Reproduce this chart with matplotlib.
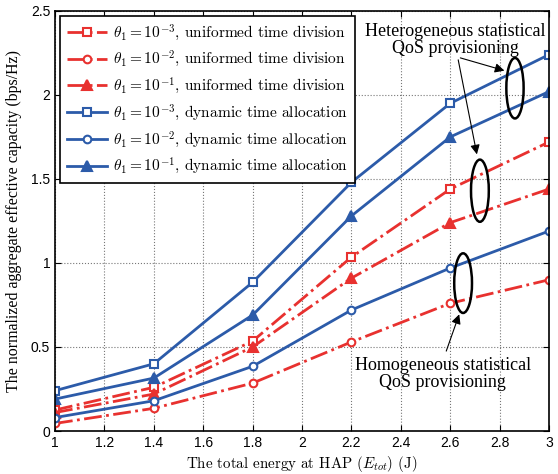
import matplotlib
matplotlib.use("Agg")
import matplotlib.pyplot as plt
from matplotlib.patches import Ellipse
from matplotlib.ticker import FormatStrFormatter

plt.rcParams['mathtext.fontset'] = 'cm'
plt.rcParams['font.family'] = ['Liberation Sans', 'DejaVu Sans']

# energy levels at HAP (J)
energy = [1.0, 1.4, 1.8, 2.2, 2.6, 3.0]

# uniformed time division
uni_1e3 = [0.125, 0.26, 0.535, 1.035, 1.44, 1.72]
uni_1e2 = [0.045, 0.135, 0.285, 0.53, 0.76, 0.90]
uni_1e1 = [0.11, 0.22, 0.50, 0.91, 1.24, 1.44]

# dynamic time allocation
dyn_1e3 = [0.24, 0.40, 0.885, 1.48, 1.95, 2.24]
dyn_1e2 = [0.08, 0.18, 0.385, 0.72, 0.97, 1.19]
dyn_1e1 = [0.19, 0.315, 0.69, 1.28, 1.75, 2.02]

labels = [r'$\theta_1=10^{-3}$, uniformed time division',
          r'$\theta_1=10^{-2}$, uniformed time division',
          r'$\theta_1=10^{-1}$, uniformed time division',
          r'$\theta_1=10^{-3}$, dynamic time allocation',
          r'$\theta_1=10^{-2}$, dynamic time allocation',
          r'$\theta_1=10^{-1}$, dynamic time allocation']

red = '#E8312F'
blue = '#2C5BA9'

fig = plt.figure(figsize=(5.58, 4.74), dpi=100)
ax = fig.add_axes([0.0986, 0.0907, 0.8854, 0.8863])

ax.plot(energy, uni_1e3, '-.', color=red, lw=2, marker='s', ms=5.5, mfc='white', mew=1.5, label=labels[0])
ax.plot(energy, uni_1e2, '-.', color=red, lw=2, marker='o', ms=5.5, mfc='white', mew=1.5, label=labels[1])
ax.plot(energy, uni_1e1, '-.', color=red, lw=2, marker='^', ms=6.5, mfc=red, mew=1.5, label=labels[2])
ax.plot(energy, dyn_1e3, '-', color=blue, lw=2, marker='s', ms=5.5, mfc='white', mew=1.5, label=labels[3])
ax.plot(energy, dyn_1e2, '-', color=blue, lw=2, marker='o', ms=5.5, mfc='white', mew=1.5, label=labels[4])
ax.plot(energy, dyn_1e1, '-', color=blue, lw=2, marker='^', ms=6.5, mfc=blue, mew=1.5, label=labels[5])

ax.set_xlim(1, 3)
ax.set_ylim(0, 2.5)
ax.set_xticks([1, 1.2, 1.4, 1.6, 1.8, 2, 2.2, 2.4, 2.6, 2.8, 3])
ax.set_yticks([0, 0.5, 1, 1.5, 2, 2.5])
ax.xaxis.set_major_formatter(FormatStrFormatter('%g'))
ax.yaxis.set_major_formatter(FormatStrFormatter('%g'))
ax.tick_params(direction='in', top=True, right=True, labelsize=10, length=4)
ax.grid(True, linestyle=':', color='#777777', linewidth=0.8)
for s in ax.spines.values():
    s.set_linewidth(1.2)

ax.set_xlabel(r'The total energy at HAP $(E_{tot})$ (J)', family='cmr10', fontsize=10.8, labelpad=3)
ax.set_ylabel('The normalized aggregate effective capacity (bps/Hz)', family='Liberation Serif',
              fontsize=11.4, labelpad=6)

leg = ax.legend(loc='upper left', prop={'family': 'cmr10', 'size': 11.1}, fancybox=False,
                edgecolor='black', framealpha=1, labelspacing=0.42, handlelength=2.6,
                borderaxespad=0.3, handletextpad=0.4, borderpad=0.45)
leg.get_frame().set_linewidth(1.2)

# ellipses marking groups of curves
for cx, cy, w, h in [(2.862, 2.04, 0.07, 0.36), (2.72, 1.43, 0.072, 0.37), (2.652, 0.88, 0.072, 0.355)]:
    ax.add_patch(Ellipse((cx, cy), w, h, fill=False, edgecolor='black', lw=1.8, zorder=5))

ax.text(2.62, 2.325, 'Heterogeneous statistical\nQoS provisioning', family='Liberation Serif',
        fontsize=13, ha='center', va='center', linespacing=1.0)
ax.annotate('', xy=(2.83, 2.14), xytext=(2.63, 2.225),
            arrowprops=dict(arrowstyle='-|>', color='black', lw=0.8, mutation_scale=14))
ax.annotate('', xy=(2.71, 1.63), xytext=(2.63, 2.225),
            arrowprops=dict(arrowstyle='-|>', color='black', lw=0.8, mutation_scale=14))

ax.text(2.57, 0.34, 'Homogeneous statistical\nQoS provisioning', family='Liberation Serif',
        fontsize=13, ha='center', va='center', linespacing=1.0)
ax.annotate('', xy=(2.64, 0.71), xytext=(2.58, 0.46),
            arrowprops=dict(arrowstyle='-|>', color='black', lw=0.8, mutation_scale=14))

fig.savefig('out.png', dpi=100)
